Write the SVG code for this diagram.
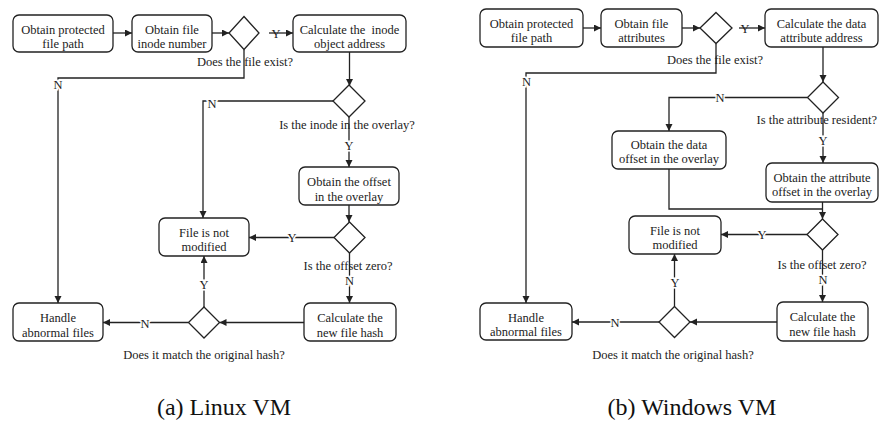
<svg xmlns="http://www.w3.org/2000/svg" width="879" height="421" viewBox="0 0 879 421">
<style>
  .box { fill: #fff; stroke: #222; stroke-width: 1.3; }
  .dia { fill: #fff; stroke: #222; stroke-width: 1.3; }
  .c { fill: none; stroke: #222; stroke-width: 1.3; }
  text { font-family: "Liberation Serif", "Times New Roman", serif; font-size: 12.5px; fill: #222; text-anchor: middle; white-space: pre; }
  .lbl { paint-order: stroke; stroke: #fff; stroke-width: 3px; }
  .cap { font-size: 24px; fill: #111; }
</style>
<defs>
  <marker id="ah" markerUnits="userSpaceOnUse" markerWidth="8" markerHeight="8" refX="7" refY="3.5" orient="auto">
    <path d="M0,0 L7,3.5 L0,7 z" fill="#222"/>
  </marker>
</defs>
<rect width="879" height="421" fill="#fff"/>

<g id="connectors">
  <!-- left -->
  <path class="c" d="M113,33 H132" marker-end="url(#ah)"/>
  <path class="c" d="M212,33 H229" marker-end="url(#ah)"/>
  <path class="c" d="M269,33 H293" marker-end="url(#ah)"/>
  <path class="c" d="M244,49.5 V78 H58 V303" marker-end="url(#ah)"/>
  <path class="c" d="M349.5,52 V86" marker-end="url(#ah)"/>
  <path class="c" d="M333,101 H203 V218" marker-end="url(#ah)"/>
  <path class="c" d="M349,117 V167" marker-end="url(#ah)"/>
  <path class="c" d="M349,205 V222" marker-end="url(#ah)"/>
  <path class="c" d="M334,237.5 H249" marker-end="url(#ah)"/>
  <path class="c" d="M349.5,253 V303" marker-end="url(#ah)"/>
  <path class="c" d="M304,322.5 H219.5" marker-end="url(#ah)"/>
  <path class="c" d="M204,307 V256" marker-end="url(#ah)"/>
  <path class="c" d="M188.5,322.5 H103" marker-end="url(#ah)"/>
  <!-- right -->
  <path class="c" d="M583,28 H601" marker-end="url(#ah)"/>
  <path class="c" d="M682,28 H700" marker-end="url(#ah)"/>
  <path class="c" d="M739,28 H765" marker-end="url(#ah)"/>
  <path class="c" d="M716,43.5 V73 H526 V303" marker-end="url(#ah)"/>
  <path class="c" d="M823,47 V82" marker-end="url(#ah)"/>
  <path class="c" d="M807.5,97.5 H669 V131" marker-end="url(#ah)"/>
  <path class="c" d="M823,113 V163" marker-end="url(#ah)"/>
  <path class="c" d="M669,169 V209 H822.5"/>
  <path class="c" d="M822.5,202 V219" marker-end="url(#ah)"/>
  <path class="c" d="M807,234.5 H721" marker-end="url(#ah)"/>
  <path class="c" d="M822.5,250 V302" marker-end="url(#ah)"/>
  <path class="c" d="M777,322 H690" marker-end="url(#ah)"/>
  <path class="c" d="M674.5,306.5 V254" marker-end="url(#ah)"/>
  <path class="c" d="M659,322 H572" marker-end="url(#ah)"/>

  <!-- labels -->
  <text x="276" y="38">Y</text>
  <text class="lbl" x="58" y="89">N</text>
  <text class="lbl" x="212" y="107.5">N</text>
  <text class="lbl" x="349" y="149.5">Y</text>
  <text class="lbl" x="292" y="242">Y</text>
  <text class="lbl" x="349.5" y="285">N</text>
  <text class="lbl" x="204" y="289">Y</text>
  <text class="lbl" x="145" y="327.5">N</text>

  <text x="745" y="33">Y</text>
  <text class="lbl" x="526.5" y="86">N</text>
  <text class="lbl" x="720" y="101.5">N</text>
  <text class="lbl" x="823" y="145">Y</text>
  <text class="lbl" x="762" y="239">Y</text>
  <text class="lbl" x="823" y="284">N</text>
  <text class="lbl" x="675" y="287">Y</text>
  <text class="lbl" x="615" y="326.5">N</text>
</g>

<!-- LEFT: Linux VM -->
<g id="L_path">
  <rect class="box" x="13" y="15" width="100" height="37" rx="6"/>
  <text x="63" y="33.5">Obtain protected</text>
  <text x="63" y="48">file path</text>
</g>
<g id="L_inode">
  <rect class="box" x="132" y="15" width="80" height="37" rx="6"/>
  <text x="172" y="33.5">Obtain file</text>
  <text x="172" y="48">inode number</text>
</g>
<g id="L_exist">
  <polygon class="dia" points="244,16.5 259,33 244,49.5 229,33"/>
  <text x="245" y="66">Does the file exist?</text>
</g>
<g id="L_calc">
  <rect class="box" x="293" y="15" width="113" height="37" rx="6"/>
  <text x="349.5" y="33.5">Calculate the  inode</text>
  <text x="349.5" y="48">object address</text>
</g>
<g id="L_overlay">
  <polygon class="dia" points="349,85 365,101 349,117 333,101"/>
  <text x="347" y="128.5">Is the inode in the overlay?</text>
</g>
<g id="L_offset">
  <rect class="box" x="299" y="167" width="100" height="38" rx="6"/>
  <text x="349" y="186">Obtain the offset</text>
  <text x="349" y="200.5">in the overlay</text>
</g>
<g id="L_zero">
  <polygon class="dia" points="349.5,222 365,237.5 349.5,253 334,237.5"/>
  <text x="348" y="270">Is the offset zero?</text>
</g>
<g id="L_notmod">
  <rect class="box" x="159" y="218" width="90" height="38" rx="6"/>
  <text x="204" y="236.5">File is not</text>
  <text x="204" y="251">modified</text>
</g>
<g id="L_hash">
  <rect class="box" x="304" y="303" width="92" height="38" rx="6"/>
  <text x="350" y="322">Calculate the</text>
  <text x="350" y="336.5">new file hash</text>
</g>
<g id="L_match">
  <polygon class="dia" points="204,307 219.5,322.5 204,338 188.5,322.5"/>
  <text x="204" y="359">Does it match the original hash?</text>
</g>
<g id="L_abnormal">
  <rect class="box" x="13" y="303" width="90" height="38" rx="6"/>
  <text x="58" y="322">Handle</text>
  <text x="58" y="336.5">abnormal files</text>
</g>
<text class="cap" x="224" y="415">(a) Linux VM</text>

<!-- RIGHT: Windows VM -->
<g id="R_path">
  <rect class="box" x="480" y="9" width="103" height="38" rx="6"/>
  <text x="531.5" y="27.5">Obtain protected</text>
  <text x="531.5" y="42">file path</text>
</g>
<g id="R_attr">
  <rect class="box" x="601" y="9" width="81" height="38" rx="6"/>
  <text x="641.5" y="27.5">Obtain file</text>
  <text x="641.5" y="42">attributes</text>
</g>
<g id="R_exist">
  <polygon class="dia" points="716,12.5 732,28 716,43.5 700,28"/>
  <text x="715" y="64">Does the file exist?</text>
</g>
<g id="R_calc">
  <rect class="box" x="765" y="9" width="113" height="38" rx="6"/>
  <text x="821.5" y="27.5">Calculate the data</text>
  <text x="821.5" y="42">attribute address</text>
</g>
<g id="R_resident">
  <polygon class="dia" points="823,82 838.5,97.5 823,113 807.5,97.5"/>
  <text x="877" y="124" style="text-anchor:end">Is the attribute resident?</text>
</g>
<g id="R_dataoff">
  <rect class="box" x="612" y="131" width="114" height="38" rx="6"/>
  <text x="669" y="148.5">Obtain the data</text>
  <text x="669" y="163">offset in the overlay</text>
</g>
<g id="R_attroff">
  <rect class="box" x="766" y="163" width="112" height="39" rx="6"/>
  <text x="822" y="181.5">Obtain the attribute</text>
  <text x="822" y="196">offset in the overlay</text>
</g>
<g id="R_zero">
  <polygon class="dia" points="822.5,219 838,234.5 822.5,250 807,234.5"/>
  <text x="822" y="269">Is the offset zero?</text>
</g>
<g id="R_notmod">
  <rect class="box" x="629" y="216" width="92" height="38" rx="6"/>
  <text x="675" y="234.5">File is not</text>
  <text x="675" y="249">modified</text>
</g>
<g id="R_hash">
  <rect class="box" x="777" y="302" width="91" height="39" rx="6"/>
  <text x="822.5" y="321">Calculate the</text>
  <text x="822.5" y="335.5">new file hash</text>
</g>
<g id="R_match">
  <polygon class="dia" points="674.5,306.5 690,322 674.5,337.5 659,322"/>
  <text x="673" y="359">Does it match the original hash?</text>
</g>
<g id="R_abnormal">
  <rect class="box" x="480" y="303" width="92" height="37" rx="6"/>
  <text x="526" y="321.5">Handle</text>
  <text x="526" y="336">abnormal files</text>
</g>
<text class="cap" x="692" y="415">(b) Windows VM</text>
</svg>
